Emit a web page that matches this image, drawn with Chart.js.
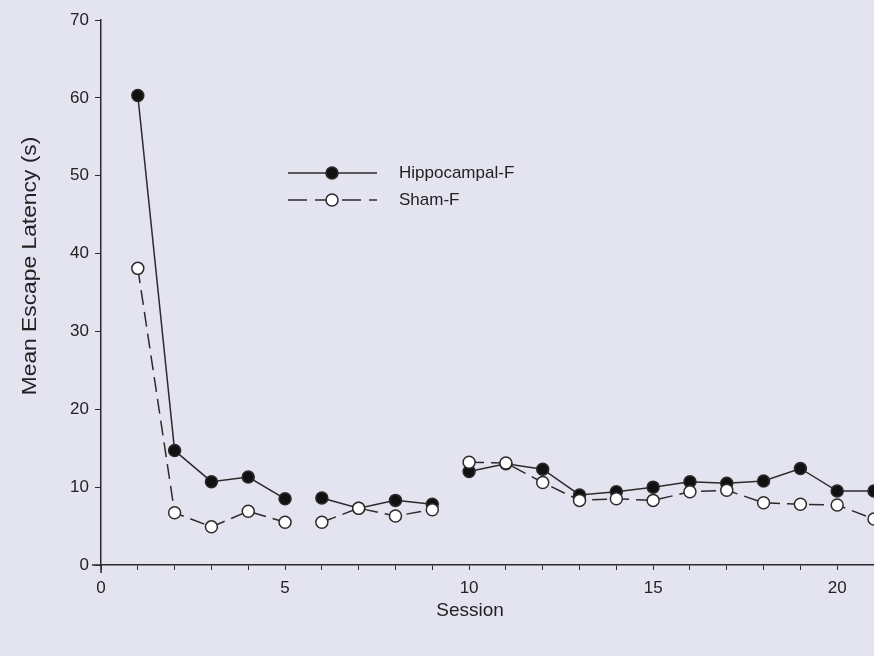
<!DOCTYPE html>
<html>
<head>
<meta charset="utf-8">
<title>Mean Escape Latency by Session</title>
<script src="https://cdn.jsdelivr.net/npm/chart.js@4.4.1/dist/chart.umd.min.js"></script>
<style>
  html, body { margin: 0; padding: 0; background: #e4e3f0; }
  #wrap { width: 874px; height: 656px; }
</style>
</head>
<body>
<div id="wrap"><canvas id="latency" width="874" height="656"></canvas></div>
<script>
// sessions and mean escape latency (s) per group
const sessions = [1, 2, 3, 4, 5, 6, 7, 8, 9, 10, 11, 12, 13, 14, 15, 16, 17, 18, 19, 20, 21];
const hippocampalF = [60.3, 14.7, 10.7, 11.3, 8.5, 8.6, 7.3, 8.3, 7.8, 12.0, 13.0, 12.3, 9.0, 9.4, 10.0, 10.7, 10.5, 10.8, 12.4, 9.5, 9.5];
const shamF = [38.1, 6.7, 4.9, 6.9, 5.5, 5.5, 7.3, 6.3, 7.1, 13.2, 13.1, 10.6, 8.3, 8.5, 8.3, 9.4, 9.6, 8.0, 7.8, 7.7, 5.9];
// the line is broken after these sessions (training blocks)
const blockEnds = [5, 9];
const xTickLabels = [0, 5, 10, 15, 20];
const yTicks = [0, 10, 20, 30, 40, 50, 60, 70];

const seriesNames = ['Hippocampal-F', 'Sham-F'];
const xTitle = 'Session';
const yTitle = 'Mean Escape Latency (s)';

const FONT = "'Liberation Sans', Arial, sans-serif";
const INK = '#2b2b2b';
const BG = '#e4e3f0';

const toPoints = vals => sessions.map((s, i) => ({ x: s, y: vals[i] }));

const segmentBreak = {
  borderColor: ctx => blockEnds.includes(ctx.p0.parsed.x) ? 'rgba(0,0,0,0)' : INK
};

// page background, crossing axis stubs, axis titles and legend
const decor = {
  id: 'decor',
  beforeDraw(chart) {
    const c = chart.ctx;
    c.save();
    c.fillStyle = BG;
    c.fillRect(0, 0, chart.width, chart.height);
    c.restore();
  },
  afterDraw(chart) {
    const c = chart.ctx;
    const a = chart.chartArea;
    c.save();
    c.strokeStyle = INK;
    c.lineWidth = 1.5;
    c.beginPath();
    c.moveTo(a.left - 9, a.bottom);
    c.lineTo(a.left, a.bottom);
    c.moveTo(a.left, a.bottom);
    c.lineTo(a.left, a.bottom + 8);
    c.stroke();

    c.fillStyle = '#222';
    c.font = '19px ' + FONT;
    c.textAlign = 'center';
    c.textBaseline = 'middle';
    c.fillText(xTitle, 470, 611);
    c.translate(30, 266);
    c.rotate(-Math.PI / 2);
    c.scale(1.14, 1);
    c.font = '20px ' + FONT;
    c.fillText(yTitle, 0, 0);
    c.restore();

    // legend
    const rows = [
      { y: 173, dash: [], filled: true },
      { y: 200, dash: [19, 8], filled: false }
    ];
    c.save();
    rows.forEach((r, i) => {
      c.strokeStyle = INK;
      c.lineWidth = 1.5;
      c.setLineDash(r.dash);
      c.beginPath();
      c.moveTo(288, r.y);
      c.lineTo(377, r.y);
      c.stroke();
      c.setLineDash([]);
      c.beginPath();
      c.arc(332, r.y, 6, 0, Math.PI * 2);
      c.fillStyle = r.filled ? '#111' : '#fff';
      c.fill();
      c.stroke();
      c.fillStyle = '#222';
      c.font = '17px ' + FONT;
      c.textAlign = 'left';
      c.textBaseline = 'middle';
      c.fillText(seriesNames[i], 399, r.y);
    });
    c.restore();
  }
};

new Chart(document.getElementById('latency'), {
  type: 'line',
  data: {
    datasets: [
      {
        label: seriesNames[0],
        data: toPoints(hippocampalF),
        order: 1,
        borderColor: INK,
        borderWidth: 1.5,
        pointRadius: 6,
        pointBackgroundColor: '#111',
        pointBorderColor: INK,
        pointBorderWidth: 1.5,
        segment: segmentBreak,
        tension: 0
      },
      {
        label: seriesNames[1],
        data: toPoints(shamF),
        order: 0,
        borderColor: INK,
        borderWidth: 1.5,
        borderDash: [15, 7],
        pointRadius: 6,
        pointBackgroundColor: '#fff',
        pointBorderColor: INK,
        pointBorderWidth: 1.5,
        segment: segmentBreak,
        tension: 0
      }
    ]
  },
  options: {
    responsive: false,
    animation: false,
    clip: false,
    layout: { autoPadding: false, padding: { top: 20, right: 0, bottom: 0, left: 0 } },
    plugins: {
      legend: { display: false },
      tooltip: { enabled: false }
    },
    scales: {
      x: {
        type: 'linear',
        min: 0,
        max: 21,
        // the axis runs right to the canvas edge
        afterFit: s => { s.height = 91; s.paddingRight = 0; s.paddingLeft = 0; },
        border: { color: INK, width: 1.5 },
        grid: { drawOnChartArea: false, tickLength: 5, color: INK, tickWidth: 1 },
        ticks: {
          stepSize: 1,
          autoSkip: false,
          maxRotation: 0,
          padding: 8,
          color: '#222',
          font: { family: FONT, size: 17 },
          callback: v => xTickLabels.includes(v) ? String(v) : ''
        }
      },
      y: {
        min: 0,
        max: 70,
        afterFit: s => { s.width = 101; },
        afterBuildTicks: s => { s.ticks = yTicks.map(v => ({ value: v })); },
        border: { color: INK, width: 1.5 },
        grid: { drawOnChartArea: false, tickLength: 6, color: INK, tickWidth: 1 },
        ticks: {
          padding: 6,
          color: '#222',
          font: { family: FONT, size: 17 }
        }
      }
    }
  },
  plugins: [decor]
});
</script>
</body>
</html>
